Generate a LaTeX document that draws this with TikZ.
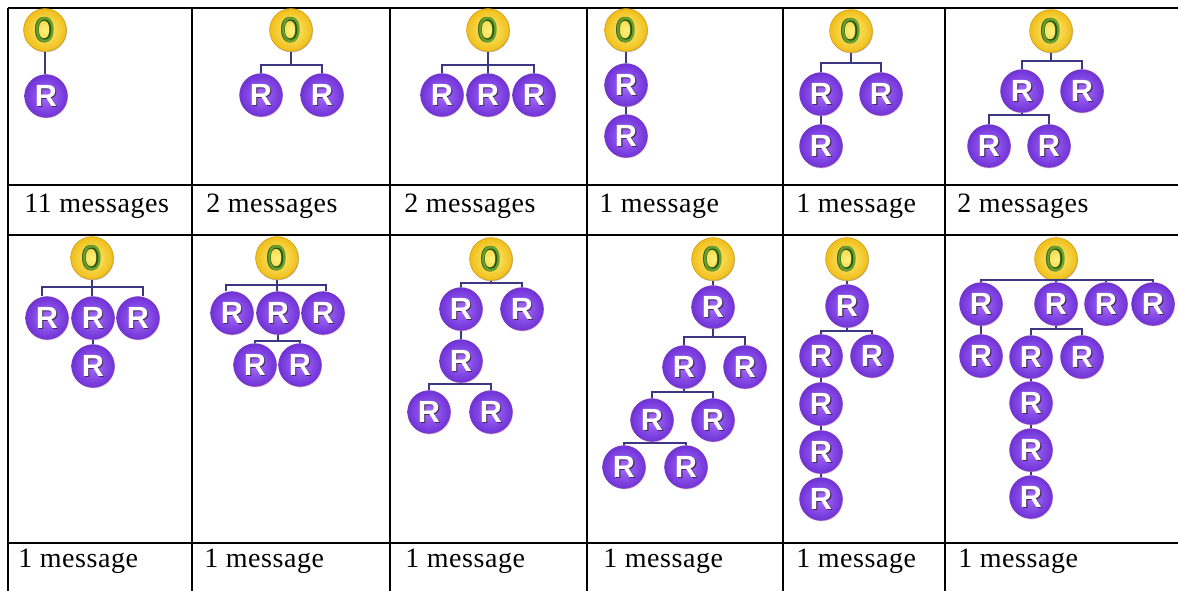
\documentclass[tikz,border=0pt]{standalone}
\usepackage{fontspec}
\usepackage{graphicx}
\setmainfont{Liberation Serif}[LetterSpace=2]
\newfontfamily\letfont{Liberation Sans}
\usetikzlibrary{shadows}
\definecolor{oin}{RGB}{255,240,125}
\definecolor{oout}{RGB}{240,190,25}
\definecolor{oedge}{RGB}{215,160,20}
\definecolor{ogreen}{RGB}{35,85,15}
\definecolor{olight}{RGB}{105,160,45}
\definecolor{rin}{RGB}{165,110,250}
\definecolor{rout}{RGB}{112,50,215}
\definecolor{redge}{RGB}{125,60,190}
\definecolor{rshadow}{RGB}{70,40,90}
\definecolor{linkc}{RGB}{60,55,130}
\newcommand\Otxt{\scalebox{0.72}[1]{\makebox[0pt][l]{\bfseries O}\textcolor{olight}{\mdseries O}}}
\newcommand\Rtxt{\makebox[0pt][l]{\hspace{0.8pt}\raisebox{-0.8pt}{\textcolor{rshadow}{R}}}R}
\begin{document}
\begin{tikzpicture}[x=0.75pt,y=-0.75pt,
  onode/.style={circle,minimum size=32pt,inner sep=0pt,draw=oedge,line width=0.5pt,
    inner color=oin,outer color=oout,text=ogreen,
    drop shadow={shadow xshift=0.5pt,shadow yshift=-0.8pt,opacity=0.25,fill=black},
    font=\letfont\fontsize{27}{27}\selectfont},
  rnode/.style={circle,minimum size=32pt,inner sep=0pt,draw=redge,line width=0.5pt,
    inner color=rin,outer color=rout,text=white,
    drop shadow={shadow xshift=0.5pt,shadow yshift=-0.8pt,opacity=0.3,fill=magenta!60!black},
    font=\letfont\bfseries\fontsize{23}{23}\selectfont},
  link/.style={draw=linkc,line width=1.1pt},
  grid/.style={draw=black,line width=1.8pt},
  lab/.style={anchor=base west,inner sep=0pt,font=\fontsize{21}{21}\selectfont}]
\useasboundingbox (0,0) rectangle (1178,590);
\clip (0,0) rectangle (1178,590);
\fill[white] (0,0) rectangle (1178,590);

% table grid
\foreach \yy in {8,185,235,543} \draw[grid] (8,\yy) -- (1190,\yy);
\foreach \xx in {8,192,390,587,783,945} \draw[grid] (\xx,8) -- (\xx,600);

% labels
\node[lab] (l1) at (24,212) {11 messages};
\node[lab] (l2) at (206,212) {2 messages};
\node[lab] (l3) at (404,212) {2 messages};
\node[lab] (l4) at (599,212) {1 message};
\node[lab] (l5) at (796,212) {1 message};
\node[lab] (l6) at (957,212) {2 messages};
\node[lab] (l7) at (18,567) {1 message};
\node[lab] (l8) at (204,567) {1 message};
\node[lab] (l9) at (405,567) {1 message};
\node[lab] (l10) at (603,567) {1 message};
\node[lab] (l11) at (796,567) {1 message};
\node[lab] (l12) at (958,567) {1 message};

% cell 1
\node[onode] (a0) at (45,30) {\Otxt};
\node[rnode] (a1) at (46,96) {\Rtxt};
\draw[link] (a0.south) -- (a0.south |- a1.north);

% cell 2
\node[onode] (b0) at (291,30) {\Otxt};
\node[rnode] (b1) at (261,95) {\Rtxt};
\node[rnode] (b2) at (322,95) {\Rtxt};
\coordinate (bf) at (291,65);
\draw[link] (b0.south) -- (bf);
\draw[link] (b1.north) -- (b1.north |- bf) -- (b2.north |- bf) -- (b2.north);

% cell 3
\node[onode] (c0) at (488,30) {\Otxt};
\node[rnode] (c1) at (442,95) {\Rtxt};
\node[rnode] (c2) at (488,95) {\Rtxt};
\node[rnode] (c3) at (534,95) {\Rtxt};
\coordinate (cf) at (488,65);
\draw[link] (c0.south) -- (c2.north);
\draw[link] (c1.north) -- (c1.north |- cf) -- (c3.north |- cf) -- (c3.north);

% cell 4
\node[onode] (d0) at (626,30) {\Otxt};
\node[rnode] (d1) at (626,85) {\Rtxt};
\node[rnode] (d2) at (626,136) {\Rtxt};
\draw[link] (d0.south) -- (d1.north);
\draw[link] (d1.south) -- (d2.north);

% cell 5
\node[onode] (e0) at (851,31) {\Otxt};
\node[rnode] (e1) at (821,94) {\Rtxt};
\node[rnode] (e2) at (881,94) {\Rtxt};
\node[rnode] (e3) at (821,146) {\Rtxt};
\coordinate (ef) at (851,63);
\draw[link] (e0.south) -- (ef);
\draw[link] (e1.north) -- (e1.north |- ef) -- (e2.north |- ef) -- (e2.north);
\draw[link] (e1.south) -- (e3.north);

% cell 6
\node[onode] (f0) at (1051,31) {\Otxt};
\node[rnode] (f1) at (1022,91) {\Rtxt};
\node[rnode] (f2) at (1082,91) {\Rtxt};
\node[rnode] (f3) at (989,146) {\Rtxt};
\node[rnode] (f4) at (1049,146) {\Rtxt};
\coordinate (ff) at (1051,61);
\coordinate (fg) at (1022,115);
\draw[link] (f0.south) -- (ff);
\draw[link] (f1.north) -- (f1.north |- ff) -- (f2.north |- ff) -- (f2.north);
\draw[link] (f1.south) -- (fg);
\draw[link] (f3.north) -- (f3.north |- fg) -- (f4.north |- fg) -- (f4.north);

% cell 7
\node[onode] (g0) at (92,258) {\Otxt};
\node[rnode] (g1) at (47,318) {\Rtxt};
\node[rnode] (g2) at (93,318) {\Rtxt};
\node[rnode] (g3) at (138,318) {\Rtxt};
\node[rnode] (g4) at (93,366) {\Rtxt};
\coordinate (gl) at (42,287);
\coordinate (gr) at (143,287);
\draw[link] (g0.south) -- (g0.south |- g2.north);
\draw[link] (gl |- g1.north) -- (gl) -- (gr) -- (gr |- g3.north);
\draw[link] (g2.south) -- (g4.north);

% cell 8
\node[onode] (h0) at (277,258) {\Otxt};
\node[rnode] (h1) at (232,313) {\Rtxt};
\node[rnode] (h2) at (278,313) {\Rtxt};
\node[rnode] (h3) at (323,313) {\Rtxt};
\node[rnode] (h4) at (255,365) {\Rtxt};
\node[rnode] (h5) at (300,365) {\Rtxt};
\coordinate (hl) at (226,285);
\coordinate (hr) at (326,285);
\coordinate (hg) at (278,341);
\draw[link] (h0.south) -- (h0.south |- h2.north);
\draw[link] (hl |- h1.north) -- (hl) -- (hr) -- (hr |- h3.north);
\draw[link] (h2.south) -- (hg);
\draw[link] (h4.north) -- (h4.north |- hg) -- (h5.north |- hg) -- (h5.north);

% cell 9
\node[onode] (i0) at (491,259) {\Otxt};
\node[rnode] (i1) at (461,309) {\Rtxt};
\node[rnode] (i2) at (522,309) {\Rtxt};
\node[rnode] (i3) at (461,361) {\Rtxt};
\node[rnode] (i4) at (429,412) {\Rtxt};
\node[rnode] (i5) at (491,412) {\Rtxt};
\coordinate (if) at (491,283);
\coordinate (ig) at (461,384);
\draw[link] (i0.south) -- (if);
\draw[link] (i1.north) -- (i1.north |- if) -- (i2.north |- if) -- (i2.north);
\draw[link] (i1.south) -- (i3.north);
\draw[link] (i3.south) -- (ig);
\draw[link] (i4.north) -- (i4.north |- ig) -- (i5.north |- ig) -- (i5.north);

% cell 10
\node[onode] (j0) at (713,259) {\Otxt};
\node[rnode] (j1) at (713,307) {\Rtxt};
\node[rnode] (j2) at (684,367) {\Rtxt};
\node[rnode] (j3) at (745,367) {\Rtxt};
\node[rnode] (j4) at (652,420) {\Rtxt};
\node[rnode] (j5) at (713,420) {\Rtxt};
\node[rnode] (j6) at (624,467) {\Rtxt};
\node[rnode] (j7) at (686,467) {\Rtxt};
\coordinate (jf) at (713,337);
\coordinate (jg) at (684,392);
\coordinate (jh) at (652,443);
\draw[link] (j0.south) -- (j1.north);
\draw[link] (j1.south) -- (jf);
\draw[link] (j2.north) -- (j2.north |- jf) -- (j3.north |- jf) -- (j3.north);
\draw[link] (j2.south) -- (jg);
\draw[link] (j4.north) -- (j4.north |- jg) -- (j5.north |- jg) -- (j5.north);
\draw[link] (j4.south) -- (jh);
\draw[link] (j6.north) -- (j6.north |- jh) -- (j7.north |- jh) -- (j7.north);

% cell 11
\node[onode] (k0) at (847,259) {\Otxt};
\node[rnode] (k1) at (847,306) {\Rtxt};
\node[rnode] (k2) at (821,356) {\Rtxt};
\node[rnode] (k3) at (872,356) {\Rtxt};
\node[rnode] (k4) at (821,404) {\Rtxt};
\node[rnode] (k5) at (821,452) {\Rtxt};
\node[rnode] (k6) at (821,499) {\Rtxt};
\coordinate (kf) at (847,331);
\draw[link] (k0.south) -- (k1.north);
\draw[link] (k1.south) -- (kf);
\draw[link] (k2.north) -- (k2.north |- kf) -- (k3.north |- kf) -- (k3.north);
\draw[link] (k2.south) -- (k4.north);
\draw[link] (k4.south) -- (k5.north);
\draw[link] (k5.south) -- (k6.north);

% cell 12
\node[onode] (m0) at (1056,259) {\Otxt};
\node[rnode] (m1) at (981,304) {\Rtxt};
\node[rnode] (m2) at (1056,304) {\Rtxt};
\node[rnode] (m3) at (1106,304) {\Rtxt};
\node[rnode] (m4) at (1153,304) {\Rtxt};
\node[rnode] (m5) at (981,356) {\Rtxt};
\node[rnode] (m6) at (1031,357) {\Rtxt};
\node[rnode] (m7) at (1082,357) {\Rtxt};
\node[rnode] (m8) at (1031,403) {\Rtxt};
\node[rnode] (m9) at (1031,450) {\Rtxt};
\node[rnode] (m10) at (1031,497) {\Rtxt};
\coordinate (mf) at (1056,280);
\coordinate (mg) at (1056,329);
\draw[link] (m1.north) -- (m1.north |- mf) -- (m4.north |- mf) -- (m4.north);
\draw[link] (m3.north) -- (m3.north |- mf);
\draw[link] (m0.south) -- (m2.north);
\draw[link] (m1.south) -- (m5.north);
\draw[link] (m2.south) -- (mg);
\draw[link] (m6.north) -- (m6.north |- mg) -- (m7.north |- mg) -- (m7.north);
\draw[link] (m6.south) -- (m8.north);
\draw[link] (m8.south) -- (m9.north);
\draw[link] (m9.south) -- (m10.north);
\end{tikzpicture}
\end{document}
